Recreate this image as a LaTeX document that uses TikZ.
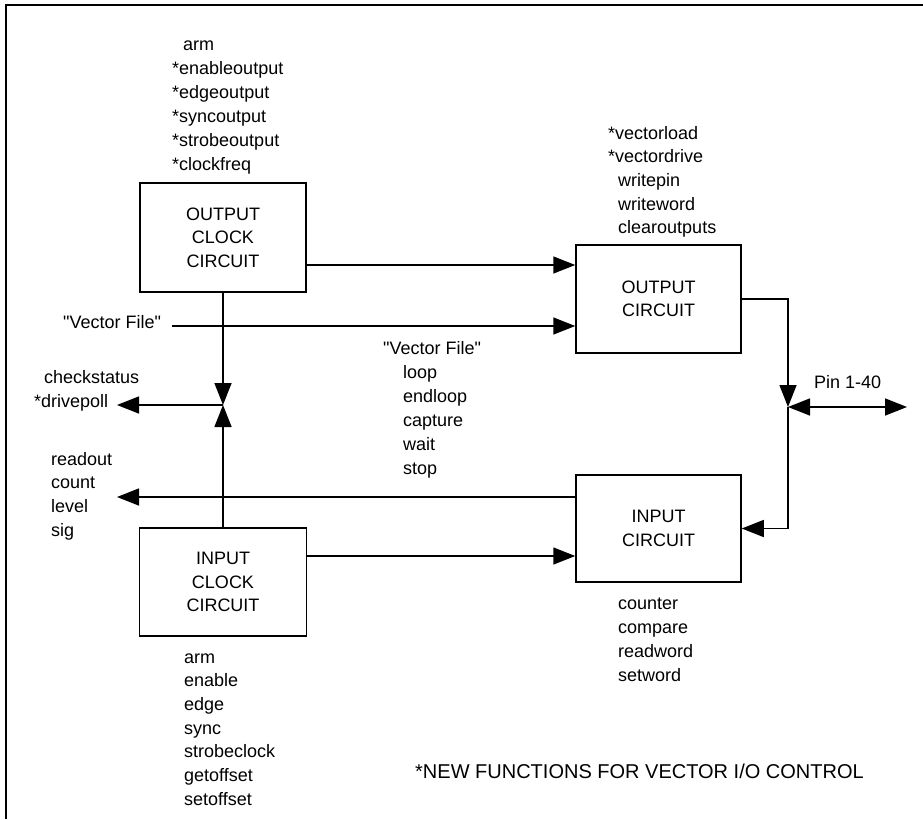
\documentclass[tikz,border=0pt]{standalone}
\usepackage{fontspec}
\setmainfont{Liberation Sans}[Ligatures=TeXOff]
\usetikzlibrary{arrows.meta}
\begin{document}
\begin{tikzpicture}[x=1pt,y=-1pt,
  box/.style={draw,line width=1.5pt,inner sep=0pt,align=center,font=\fontsize{18}{23.5}\selectfont},
  lbl/.style={anchor=base west,inner sep=0pt,font=\fontsize{18}{24}\selectfont},
  note/.style={anchor=base west,inner sep=0pt,font=\fontsize{20}{24}\selectfont},
  conn/.style={line width=1.5pt},
  tip/.tip={Triangle[length=22pt,width=17pt]},
  arr/.style={conn,-tip},
  darr/.style={conn,tip-tip},
]
\useasboundingbox (0,0) rectangle (923,819);
\draw[line width=2pt] (6,819) -- (6,5) -- (923,5);

% boxes
\node[box,minimum width=166pt,minimum height=109pt] (occ) at (223,237.5) {OUTPUT\\CLOCK\\CIRCUIT};
\node[box,minimum width=165pt,minimum height=108pt] (oc) at (658.5,299) {OUTPUT\\CIRCUIT};
\node[box,minimum width=167pt,minimum height=108pt] (icc) at (223,582) {INPUT\\CLOCK\\CIRCUIT};
\node[box,minimum width=165pt,minimum height=107pt] (ic) at (658.5,528.5) {INPUT\\CIRCUIT};

% label lists
\foreach \x/\t [count=\i] in {183/arm,172/*enableoutput,172/*edgeoutput,172/*syncoutput,172/*strobeoutput,172/*clockfreq}
  \node[lbl] (oa\i) at ({\x},{50+24*(\i-1)}) {\t};
\foreach \x/\t [count=\i] in {608/*vectorload,608/*vectordrive,618/writepin,618/writeword,618/clearoutputs}
  \node[lbl] (ob\i) at ({\x},{139+23.7*(\i-1)}) {\t};
\node[lbl] (vf1) at (63,328) {"Vector File"};
\node[lbl] (cs1) at (44,383) {checkstatus};
\node[lbl] (cs2) at (34,407) {*drivepoll};
\foreach \x/\t [count=\i] in {383/"Vector File",403/loop,403/endloop,403/capture,403/wait,403/stop}
  \node[lbl] (vm\i) at ({\x},{354+24*(\i-1)}) {\t};
\foreach \t [count=\i] in {readout,count,level,sig}
  \node[lbl] (rd\i) at (51,{465+23.7*(\i-1)}) {\t};
\foreach \t [count=\i] in {arm,enable,edge,sync,strobeclock,getoffset,setoffset}
  \node[lbl] (ia\i) at (184,{663+23.7*(\i-1)}) {\t};
\foreach \t [count=\i] in {counter,compare,readword,setword}
  \node[lbl] (ib\i) at (618,{609+24*(\i-1)}) {\t};
\node[lbl] (pinl) at (814,388) {Pin 1-40};
\node[note] (nf) at (415,778) {*NEW FUNCTIONS FOR VECTOR I/O CONTROL};

% junction points
\coordinate (j1) at (223,405);
\coordinate (dp) at (117,405);
\coordinate (ro) at (117,497);
\coordinate (vfs) at (172,326);
\coordinate (c1) at (788,299);
\coordinate (j2) at (788,407);
\coordinate (pin) at (907,407);

% connectors
\draw[arr] (occ.east |- 0,265) -- (oc.west |- 0,265);
\draw[arr] (vfs) -- (vfs -| oc.west);
\draw[arr] (occ.south) -- (j1);
\draw[arr] (icc.north) -- (j1);
\draw[arr] (j1) -- (dp);
\draw[arr] (ic.west |- ro) -- (ro);
\draw[arr] (icc.east |- 0,556) -- (ic.west |- 0,556);
\draw[arr] (oc.east |- c1) -- (c1) -- (j2);
\draw[darr] (j2) -- (pin);
\draw[arr] (j2) |- (ic.east);
\end{tikzpicture}
\end{document}
